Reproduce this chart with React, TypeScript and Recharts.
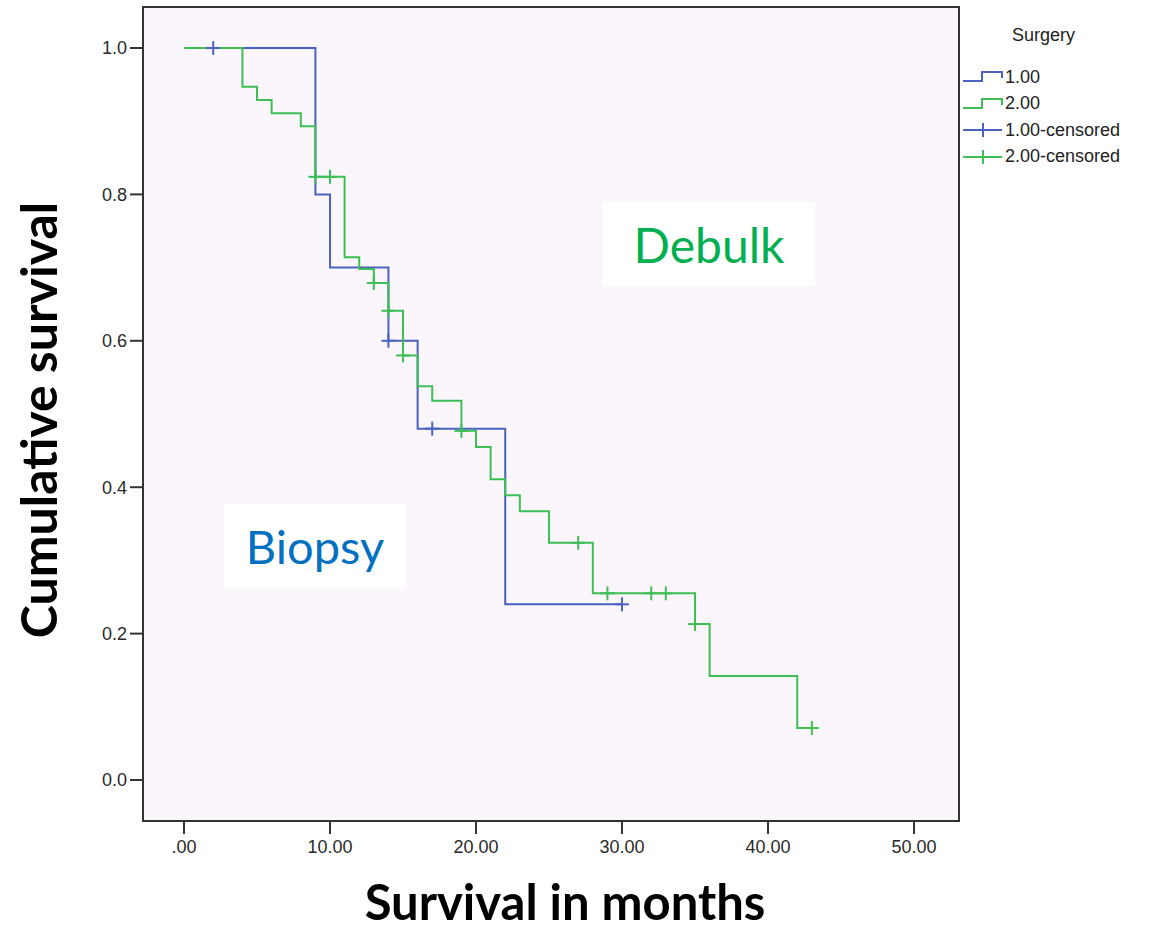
import { ComposedChart, Line, Scatter, XAxis, YAxis, ReferenceArea } from 'recharts';

// Surgery 1.00 (biopsy) step points
const biopsyTimes = [0, 9, 10, 14, 16, 22, 30];
const biopsySurv = [1.0, 0.8, 0.7, 0.6, 0.48, 0.24, 0.24];
const biopsyCensTimes = [2, 14, 17, 30];
const biopsyCensSurv = [1.0, 0.6, 0.48, 0.24];

// Surgery 2.00 (debulk) step points
const debulkTimes = [0, 4, 5, 6, 8, 9, 11, 12, 13, 14, 15, 16, 17, 19, 20, 21, 22, 23, 25, 28, 35, 36, 42, 43];
const debulkSurv = [1.0, 0.947, 0.929, 0.911, 0.893, 0.824, 0.714, 0.698, 0.679, 0.641, 0.58, 0.538, 0.518, 0.477, 0.455, 0.411, 0.389, 0.367, 0.324, 0.255, 0.213, 0.142, 0.071, 0.071];
const debulkCensTimes = [9, 10, 13, 14, 15, 19, 27, 29, 32, 33, 35, 43];
const debulkCensSurv = [0.824, 0.824, 0.679, 0.641, 0.58, 0.477, 0.324, 0.255, 0.255, 0.255, 0.213, 0.071];

const xTicks = [0, 10, 20, 30, 40, 50];
const yTicks = [0, 0.2, 0.4, 0.6, 0.8, 1.0];
const xDomain = [-2.81, 53.08];
const yDomain = [-0.056, 1.056];

const BLUE = '#4a62c2';
const GREEN = '#3dbf56';

const zip = (t: number[], s: number[]) => t.map((v, i) => ({ t: v, s: s[i] }));
const biopsyRows = zip(biopsyTimes, biopsySurv);
const debulkRows = zip(debulkTimes, debulkSurv);
const biopsyCens = zip(biopsyCensTimes, biopsyCensSurv);
const debulkCens = zip(debulkCensTimes, debulkCensSurv);

const plus = (color: string) => (props: any) => {
  const { cx, cy } = props;
  return (
    <g stroke={color} strokeWidth={2}>
      <line x1={cx - 7} x2={cx + 7} y1={cy} y2={cy} />
      <line x1={cx} x2={cx} y1={cy - 7} y2={cy + 7} />
    </g>
  );
};

const legendItems = [
  { label: '1.00', color: BLUE, kind: 'step' },
  { label: '2.00', color: GREEN, kind: 'step' },
  { label: '1.00-censored', color: BLUE, kind: 'cens' },
  { label: '2.00-censored', color: GREEN, kind: 'cens' },
];

const SurgeryLegend = () => (
  <div style={{ position: 'absolute', left: 960, top: 20, width: 190, fontFamily: '"Liberation Sans", Arial, sans-serif', fontSize: 18, color: '#222' }}>
    <div style={{ paddingLeft: 52, height: 30, lineHeight: '30px' }}>Surgery</div>
    {legendItems.map((it, i) => (
      <div key={i} style={{ display: 'flex', alignItems: 'center', height: 26.5, marginTop: i === 0 ? 14 : 0 }}>
        <svg width={42} height={16} style={{ marginLeft: 3 }}>
          {it.kind === 'step' ? (
            <path d="M0,12 H19 V3 H39 V9" fill="none" stroke={it.color} strokeWidth={2} />
          ) : (
            <g stroke={it.color} strokeWidth={2}>
              <line x1={0} x2={39} y1={8} y2={8} />
              <line x1={20} x2={20} y1={1} y2={15} />
            </g>
          )}
        </svg>
        <span>{it.label}</span>
      </div>
    ))}
  </div>
);

const tickStyle = { fontFamily: '"Liberation Sans", Arial, sans-serif', fontSize: 18, fill: '#2a2a2a' };

export default function App() {
  return (
    <div style={{ position: 'absolute', left: 0, top: 0, width: 1150, height: 931, background: '#fff', overflow: 'hidden' }}>
      <ComposedChart width={1150} height={931} margin={{ top: 7, right: 191, bottom: 70, left: 83 }}>
        <XAxis
          dataKey="t"
          type="number"
          domain={xDomain}
          allowDataOverflow
          ticks={xTicks}
          tickFormatter={(v: number) => (v === 0 ? '.00' : v.toFixed(2))}
          height={40}
          axisLine={false}
          tickSize={13}
          tickMargin={6}
          tickLine={{ stroke: '#333', strokeWidth: 2 }}
          tick={tickStyle}
        />
        <YAxis
          type="number"
          domain={yDomain}
          allowDataOverflow
          ticks={yTicks}
          tickFormatter={(v: number) => v.toFixed(1)}
          width={60}
          axisLine={false}
          tickSize={13}
          tickMargin={3}
          tickLine={{ stroke: '#333', strokeWidth: 2 }}
          tick={tickStyle}
        />
        <ReferenceArea x1={xDomain[0]} x2={xDomain[1]} y1={yDomain[0]} y2={yDomain[1]} fill="#fbf6fb" fillOpacity={1} stroke="#333" strokeWidth={2} ifOverflow="visible" />
        <Line data={biopsyRows} dataKey="s" type="stepAfter" stroke={BLUE} strokeWidth={2} dot={false} isAnimationActive={false} />
        <Line data={debulkRows} dataKey="s" type="stepAfter" stroke={GREEN} strokeWidth={2} dot={false} isAnimationActive={false} />
        <Scatter data={biopsyCens} dataKey="s" shape={plus(BLUE)} isAnimationActive={false} />
        <Scatter data={debulkCens} dataKey="s" shape={plus(GREEN)} isAnimationActive={false} />
      </ComposedChart>

      <SurgeryLegend />

      <div style={{ position: 'absolute', left: 603, top: 202, width: 212, height: 84, background: '#fff', display: 'flex', alignItems: 'center', justifyContent: 'center', fontFamily: 'Lato, sans-serif', fontSize: 48, color: '#00b050' }}>
        Debulk
      </div>
      <div style={{ position: 'absolute', left: 224, top: 504, width: 182, height: 84, background: '#fff', display: 'flex', alignItems: 'center', justifyContent: 'center', fontFamily: 'Lato, sans-serif', fontSize: 47, color: '#0070c0' }}>
        Biopsy
      </div>

      <div style={{ position: 'absolute', left: 38 - 300, top: 420 - 30, width: 600, height: 60, lineHeight: '60px', textAlign: 'center', transform: 'rotate(-90deg)', fontFamily: 'Lato, sans-serif', fontWeight: 700, fontSize: 50, color: '#000' }}>
        Cumulative survival
      </div>
      <div style={{ position: 'absolute', left: 565 - 300, top: 871, width: 600, height: 60, lineHeight: '60px', textAlign: 'center', fontFamily: 'Lato, sans-serif', fontWeight: 700, fontSize: 49, color: '#000' }}>
        Survival in months
      </div>
    </div>
  );
}
